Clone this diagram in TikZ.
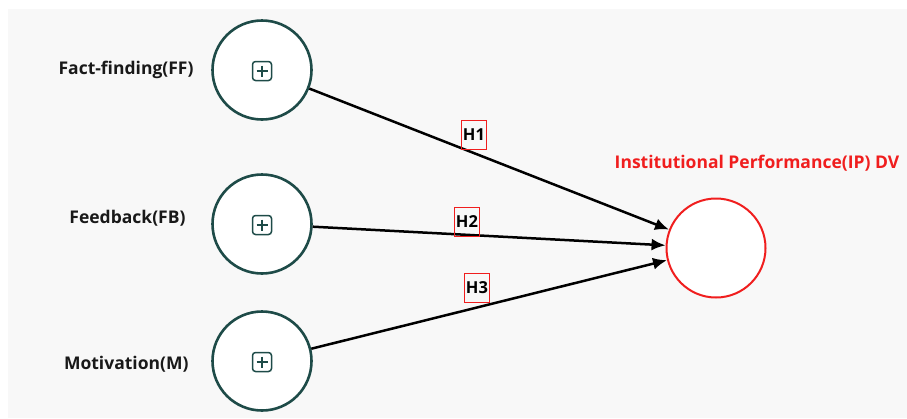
\documentclass[tikz,border=0pt]{standalone}
\usepackage{fontspec}
\setmainfont{Open Sans}
\usepackage{tikz}
\usetikzlibrary{positioning, arrows.meta, calc}
\definecolor{Mitil}{RGB}{30,75,72}
\definecolor{Mifondo}{RGB}{248,248,248}
\definecolor{Mirojo}{RGB}{240,30,30}

\begin{document}
\begin{tikzpicture}[
    x=1pt, y=-1pt,
    lv/.style={
        circle, draw=Mitil, line width=2.6pt, fill=white,
        minimum size=99pt, inner sep=0pt},
    dv/.style={
        circle, draw=Mirojo, line width=2pt, fill=white,
        minimum size=99pt, inner sep=0pt},
    lvlab/.style={font=\fontsize{17.5}{20}\selectfont\bfseries, text=black!90, anchor=east},
    dvlab/.style={font=\fontsize{17.5}{20}\selectfont\bfseries, text=Mirojo},
    plusbox/.style={
        rectangle, rounded corners=3pt, draw=Mitil, line width=1.5pt,
        minimum size=19pt, inner sep=0pt},
    arr/.style={-{Latex[length=14pt, width=12pt]}, line width=2.5pt, color=black},
    hyp/.style={draw=Mirojo, line width=0.9pt, fill=none, inner sep=1.5pt,
        minimum height=29pt, font=\fontsize{16.5}{19}\selectfont\bfseries}]
  % Fondo
  \fill[white] (0,0) rectangle (907,418);
  \fill[Mifondo] (8,9) rectangle (907,418);
  \useasboundingbox (0,0) rectangle (907,418);
  % Variables latentes
  \node[lv] (ff) at (262,70)  {};
  \node[lv] (fb) at (262,224) {};
  \node[lv] (mo) at (262,361) {};
  \node[dv] (ip) at (716,248) {};
  % Iconos de expansion
  \foreach \v in {ff, fb, mo} {
    \node[plusbox] (\v-plus) at ($(\v.center)+(0,1)$) {};
    \draw[Mitil, line width=1.6pt] ($(\v-plus.center)+(-5.5,0)$) -- ($(\v-plus.center)+(5.5,0)$);
    \draw[Mitil, line width=1.6pt] ($(\v-plus.center)+(0,-5.5)$) -- ($(\v-plus.center)+(0,5.5)$);
  }
  % Etiquetas
  \node[lvlab] (tff) at (197,70)  {Fact-finding(FF)};
  \node[lvlab] (tfb) at (189,218) {Feedback(FB)};
  \node[lvlab] (tmo) at (192,364) {Motivation(M)};
  \node[dvlab] (tip) at (757,163) {Institutional Performance(IP) DV};
  % Flechas
  \draw[arr] (ff) -- (ip);
  \draw[arr] (fb) -- (ip);
  \draw[arr] (mo) -- (ip);
  % Hipotesis
  \node[hyp] (h1) at (474,135) {H1};
  \node[hyp] (h2) at (467,222) {H2};
  \node[hyp] (h3) at (477,288) {H3};
\end{tikzpicture}
\end{document}
